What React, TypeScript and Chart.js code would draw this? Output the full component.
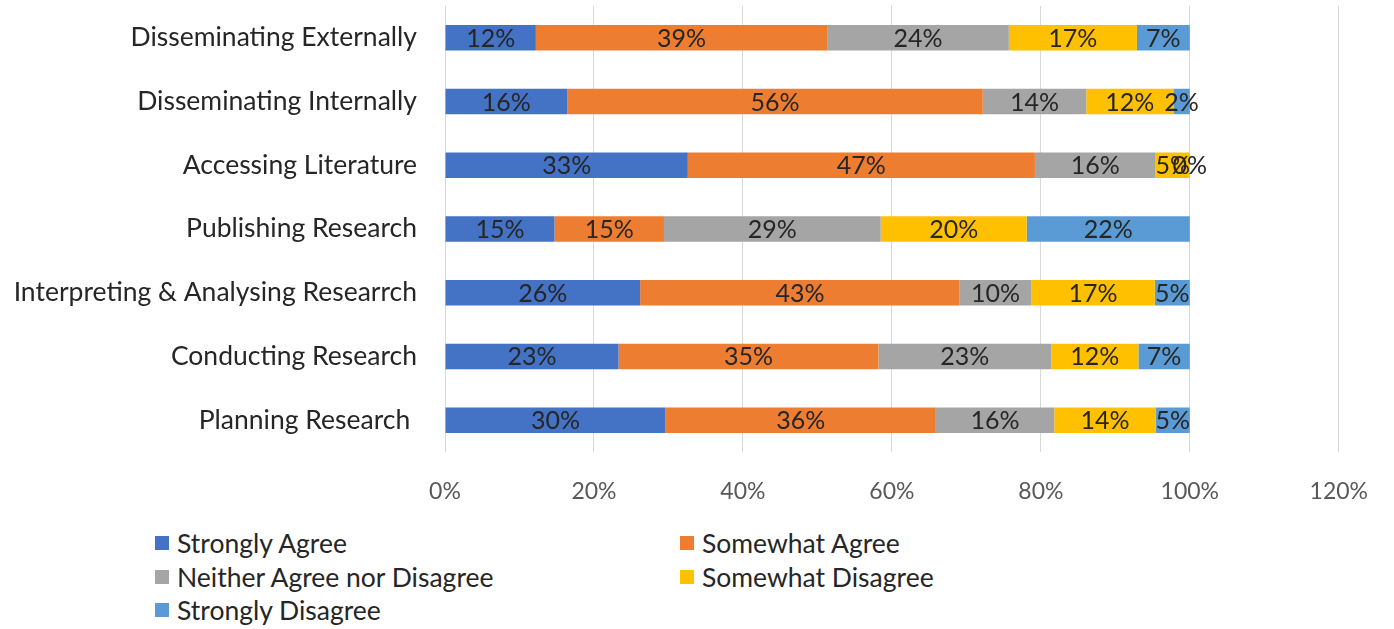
import React, { useEffect, useRef } from "react";
import { Chart, registerables } from "chart.js";

Chart.register(...registerables);

const categories = [
  "Disseminating Externally",
  "Disseminating Internally",
  "Accessing Literature",
  "Publishing Research",
  "Interpreting & Analysing Researrch",
  "Conducting Research",
  "Planning Research ",
];

const seriesNames = [
  "Strongly Agree",
  "Somewhat Agree",
  "Neither Agree nor Disagree",
  "Somewhat Disagree",
  "Strongly Disagree",
];

const seriesColors = ["#4472C4", "#ED7D31", "#A5A5A5", "#FFC000", "#5B9BD5"];

const stronglyAgree = [12.2, 16.4, 32.6, 14.7, 26.2, 23.3, 29.6];
const somewhatAgree = [39.1, 55.8, 46.6, 14.7, 42.9, 34.9, 36.3];
const neither = [24.4, 13.9, 16.2, 29.1, 9.6, 23.2, 15.9];
const somewhatDisagree = [17.2, 11.7, 4.6, 19.6, 16.6, 11.7, 13.6];
const stronglyDisagree = [7.1, 2.2, 0, 21.9, 4.7, 6.9, 4.6];

const xTicks = [0, 20, 40, 60, 80, 100, 120];

const FONT = "Lato, 'Open Sans', sans-serif";

const dataLabelPlugin = {
  id: "segmentLabels",
  afterDatasetsDraw(chart: any) {
    const ctx = chart.ctx;
    ctx.save();
    ctx.font = `25px ${FONT}`;
    ctx.fillStyle = "#262626";
    ctx.textAlign = "center";
    ctx.textBaseline = "middle";
    chart.data.datasets.forEach((ds: any, i: number) => {
      const meta = chart.getDatasetMeta(i);
      meta.data.forEach((el: any, j: number) => {
        const p = el.getProps(["x", "y", "base"], true);
        const cx = (p.x + p.base) / 2;
        ctx.fillText(Math.round(ds.data[j]) + "%", cx, p.y + 1);
      });
    });
    ctx.restore();
  },
};

export default function App() {
  const ref = useRef<HTMLCanvasElement | null>(null);

  useEffect(() => {
    document.body.style.margin = "0";
    const series = [stronglyAgree, somewhatAgree, neither, somewhatDisagree, stronglyDisagree];
    const chart = new Chart(ref.current as HTMLCanvasElement, {
      type: "bar",
      data: {
        labels: categories,
        datasets: series.map((d, i) => ({
          label: seriesNames[i],
          data: d,
          backgroundColor: seriesColors[i],
          borderWidth: 0,
          barPercentage: 0.4,
          categoryPercentage: 1,
        })),
      },
      options: {
        indexAxis: "y",
        responsive: false,
        animation: false,
        layout: { padding: { top: 5, right: 48, left: 0, bottom: 0 } },
        plugins: { legend: { display: false }, tooltip: { enabled: false } },
        scales: {
          x: {
            stacked: true,
            min: 0,
            max: 120,
            afterBuildTicks: (scale: any) => {
              scale.ticks = xTicks.map((v) => ({ value: v }));
            },
            afterFit: (scale: any) => {
              scale.height = 63;
            },
            grid: { color: "#D9D9D9", lineWidth: 1, drawTicks: false },
            border: { display: false },
            ticks: {
              padding: 26,
              color: "#595959",
              font: { family: FONT, size: 23 },
              callback: (v: any) => v + "%",
            },
          },
          y: {
            stacked: true,
            afterFit: (scale: any) => {
              scale.width = 445;
            },
            grid: { display: false, drawTicks: false },
            border: { display: false },
            ticks: {
              padding: 28,
              color: "#262626",
              font: { family: FONT, size: 26.5 },
            },
          },
        },
      },
      plugins: [dataLabelPlugin],
    } as any);
    return () => chart.destroy();
  }, []);

  const legendPos = [
    { left: 155, top: 543 },
    { left: 680, top: 543 },
    { left: 155, top: 577 },
    { left: 680, top: 577 },
    { left: 155, top: 610 },
  ];

  return (
    <div style={{ position: "relative", width: 1394, height: 629, background: "#fff", overflow: "hidden" }}>
      <canvas ref={ref} width={1394} height={553} style={{ position: "absolute", left: 0, top: -38 }} />
      {seriesNames.map((name, i) => (
        <div
          key={name}
          style={{
            position: "absolute",
            left: legendPos[i].left,
            top: legendPos[i].top - 15,
            height: 30,
            display: "flex",
            alignItems: "center",
            fontFamily: FONT,
            fontSize: 26.5,
            color: "#262626",
            whiteSpace: "nowrap",
          }}
        >
          <span style={{ display: "inline-block", width: 14, height: 14, background: seriesColors[i], marginRight: 8 }} />
          {name}
        </div>
      ))}
    </div>
  );
}
